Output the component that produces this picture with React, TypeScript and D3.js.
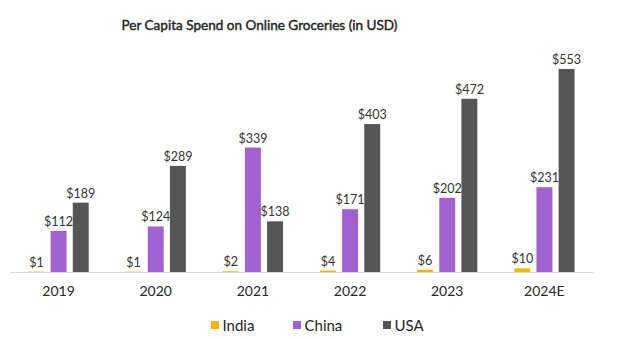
import React from "react";
import * as d3 from "d3";

const years = ["2019", "2020", "2021", "2022", "2023", "2024E"];
const seriesNames = ["India", "China", "USA"];
const india = [1, 1, 2, 4, 6, 10];
const china = [112, 124, 339, 171, 202, 231];
const usa = [189, 289, 138, 403, 472, 553];
const colors = ["#F2B705", "#A062D0", "#555555"];

const W = 624;
const H = 339;

export default function App() {
  const seriesValues = [india, china, usa];
  const x0 = d3.scaleBand<string>().domain(years).range([10, 593]).paddingInner(0.38).paddingOuter(0.19);
  const x1 = d3.scaleBand<string>().domain(seriesNames).range([0, x0.bandwidth()]).paddingInner(0.28);
  const y = d3.scaleLinear().domain([0, 553]).range([272, 69]);
  const font = "Lato, 'Open Sans', sans-serif";
  const legendX = [211, 293, 383];
  return (
    <svg width={W} height={H} style={{ position: "absolute", left: 0, top: 0, background: "#fff" }} fontFamily={font}>
      <text x={259.5} y={30} textAnchor="middle" fontSize={14} fontWeight={400} fill="#262626" stroke="#262626" strokeWidth={0.45} textLength={276} lengthAdjust="spacingAndGlyphs">
        Per Capita Spend on Online Groceries (in USD)
      </text>
      {years.map((yr, i) => (
        <g key={yr} transform={`translate(${x0(yr)},0)`}>
          {seriesNames.map((s, j) => {
            const v = seriesValues[j][i];
            const bx = x1(s)!;
            const bw = x1.bandwidth();
            return (
              <g key={s}>
                <rect x={bx} y={y(v)} width={bw} height={272 - y(v)} fill={colors[j]} />
                <text x={bx + bw / 2} y={y(v) - 5} textAnchor="middle" fontSize={12.5} fill="#333">
                  {"$" + v}
                </text>
              </g>
            );
          })}
          <text x={x0.bandwidth() / 2} y={296} textAnchor="middle" fontSize={14} fill="#262626">
            {yr}
          </text>
        </g>
      ))}
      <line x1={10} x2={593} y1={272.5} y2={272.5} stroke="#d9d9d9" strokeWidth={1} />
      {seriesNames.map((s, j) => (
        <g key={s}>
          <rect x={legendX[j]} y={321} width={8} height={8} fill={colors[j]} />
          <text x={legendX[j] + 11.5} y={330.5} fontSize={15} fill="#262626">
            {s}
          </text>
        </g>
      ))}
    </svg>
  );
}
